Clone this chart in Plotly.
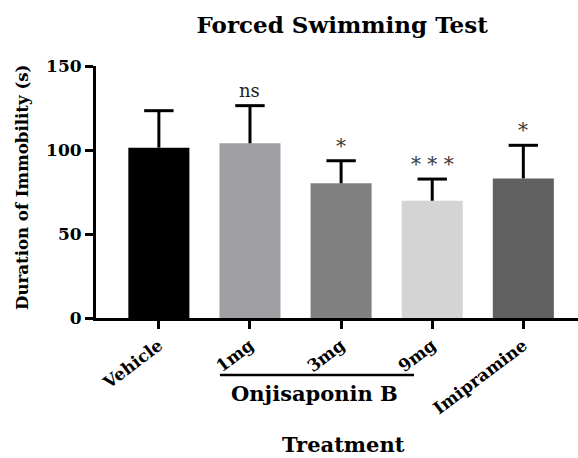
import plotly.graph_objects as go

categories = ["Vehicle", "1mg", "3mg", "9mg", "Imipramine"]
means = [101.4, 104.0, 80.2, 69.8, 83.1]
sem = [22.0, 22.4, 13.4, 12.9, 19.7]
colors = ["#000000", "#a0a0a4", "#808080", "#d4d4d4", "#606060"]
sig_labels = ["", "ns", "*", "* * *", "*"]
y_ticks = [0, 50, 100, 150]

FONT = "DejaVu Serif"
xs = list(range(len(categories)))
tops = [m + e for m, e in zip(means, sem)]

fig = go.Figure()
fig.add_trace(go.Bar(
    x=xs, y=means,
    marker=dict(color=colors, line=dict(width=0)),
    width=0.67,
    error_y=dict(type="data", symmetric=False, array=sem,
                 arrayminus=[0] * len(sem), color="black",
                 thickness=3, width=0),
    showlegend=False,
))
# error bar caps (top only)
fig.add_trace(go.Scatter(
    x=xs, y=tops, mode="markers",
    marker=dict(symbol="line-ew", size=21, line=dict(color="black", width=3)),
    showlegend=False, hoverinfo="skip",
))

for i, (t, s) in enumerate(zip(tops, sig_labels)):
    if s:
        is_ns = s == "ns"
        fig.add_annotation(
            x=i, y=t, text=s, showarrow=False, yanchor="bottom",
            yshift=3 if is_ns else 1,
            font=dict(family=FONT, size=18 if is_ns else 20,
                      color="#222222" if is_ns else "#3a3a3a"),
        )

# group bracket for Onjisaponin B
fig.add_shape(type="line", xref="x", yref="paper", x0=0.67, x1=2.8,
              y0=-0.226, y1=-0.226, line=dict(color="black", width=2.5))
fig.add_annotation(x=1.71, xref="x", y=-0.298, yref="paper",
                   text="<b>Onjisaponin B</b>", showarrow=False,
                   yanchor="middle",
                   font=dict(family=FONT, size=21, color="black"))
fig.add_annotation(x=0.5, xref="paper", y=-0.5, yref="paper",
                   text="<b>Treatment</b>", showarrow=False,
                   yanchor="middle", xshift=6,
                   font=dict(family=FONT, size=21, color="black"))
fig.add_annotation(x=0, xref="paper", xshift=-74, y=0.516, yref="paper",
                   text="<b>Duration of Immobility (s)</b>", showarrow=False,
                   textangle=-90, xanchor="center", yanchor="middle",
                   font=dict(family=FONT, size=16.6, color="black"))

fig.update_layout(
    width=578, height=458,
    margin=dict(l=96, r=0, t=66, b=140),
    plot_bgcolor="white", paper_bgcolor="white",
    title=dict(text="<b>Forced Swimming Test</b>", x=0.592, xanchor="center",
               y=0.945, yanchor="middle",
               font=dict(family=FONT, size=23, color="black")),
)
fig.update_xaxes(
    range=[-0.69, 4.6], tickvals=xs,
    ticktext=[f"<b>{c}</b>" for c in categories], tickangle=-37,
    showline=True, linecolor="black", linewidth=3,
    ticks="outside", ticklen=8, tickwidth=3, tickcolor="black",
    tickfont=dict(family=FONT, size=17, color="black"),
    showgrid=False, zeroline=False,
)
fig.update_yaxes(
    range=[0, 150], tickvals=y_ticks,
    ticktext=[f"<b>{v}</b>" for v in y_ticks],
    showline=True, linecolor="black", linewidth=3,
    ticks="outside", ticklen=8, tickwidth=3, tickcolor="black",
    tickfont=dict(family=FONT, size=17, color="black"),
    showgrid=False, zeroline=False,
)

fig.write_html("out.html", config={"displayModeBar": False},
               post_script="document.body.style.margin='0';")
